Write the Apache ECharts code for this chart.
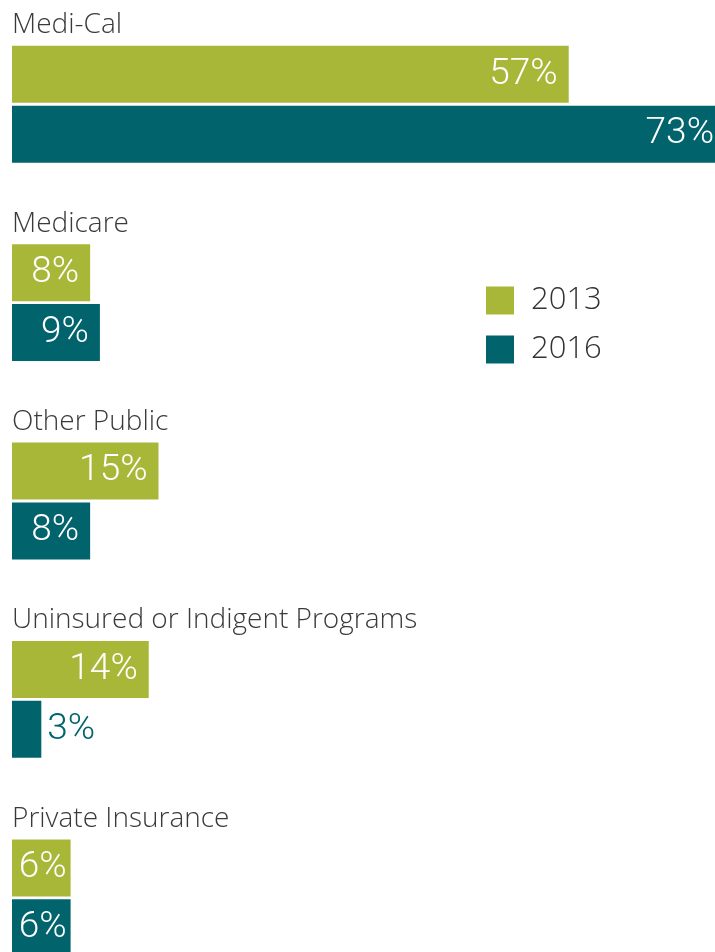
<!DOCTYPE html>
<html>
<head>
<meta charset="utf-8">
<script src="https://cdn.jsdelivr.net/npm/echarts@6/dist/echarts.min.js"></script>
<style>
  * { margin: 0; padding: 0; }
  html, body { background: #fff; }
  #chart { width: 715px; height: 952px; }
</style>
</head>
<body>
<div id="chart"></div>
<script>
// categories (top to bottom)
var categories = ['Medi-Cal', 'Medicare', 'Other Public', 'Uninsured or Indigent Programs', 'Private Insurance'];
// share of patients, percent
var values2013 = [57, 8, 15, 14, 6];
var values2016 = [73, 9, 8, 3, 6];

var green = '#a9b738';
var teal = '#01636b';

var chart = echarts.init(document.getElementById('chart'));

// value label inside the bar end, white
var valueLabel = {
  show: true,
  position: 'insideRight',
  distance: 11,
  color: '#fff',
  fontFamily: 'Roboto',
  fontWeight: 300,
  fontSize: 37,
  formatter: '{c}%'
};

function withLabels(values) {
  return values.map(function (v) {
    if (v < 5) {
      // bar too short, label goes outside
      return { value: v, label: { position: 'right', distance: 6, color: teal } };
    }
    if (v < 7) {
      return { value: v, label: { distance: 4 } };
    }
    return v;
  });
}

chart.setOption({
  animation: false,
  legend: {
    orient: 'vertical',
    left: 481,
    top: 280,
    itemWidth: 28,
    itemHeight: 28,
    itemGap: 18,
    icon: 'rect',
    textStyle: {
      fontFamily: 'Open Sans',
      fontWeight: 300,
      fontSize: 31,
      lineHeight: 28,
      color: '#333',
      padding: [0, 0, 0, 12]
    },
    data: ['2013', '2016']
  },
  // the plot runs past the bottom and right edges of the page
  grid: { left: 12, top: 5, width: 713, height: 992, containLabel: false, outerBoundsMode: 'none' },
  xAxis: {
    type: 'value',
    min: 0,
    max: 73,
    show: false
  },
  yAxis: {
    type: 'category',
    inverse: true,
    data: categories,
    axisLine: { show: false },
    axisTick: { show: false },
    axisLabel: {
      inside: true,
      margin: 0,
      align: 'left',
      verticalAlign: 'bottom',
      padding: [0, 0, 65, 0],
      fontFamily: 'Open Sans',
      fontWeight: 300,
      fontSize: 28,
      color: '#3a3a3a'
    }
  },
  series: [
    {
      name: '2013',
      type: 'bar',
      data: withLabels(values2013),
      barWidth: 57,
      barGap: '5%',
      itemStyle: { color: green },
      label: valueLabel
    },
    {
      name: '2016',
      type: 'bar',
      data: withLabels(values2016),
      barWidth: 57,
      barGap: '5%',
      itemStyle: { color: teal },
      label: valueLabel
    }
  ]
});
</script>
</body>
</html>
